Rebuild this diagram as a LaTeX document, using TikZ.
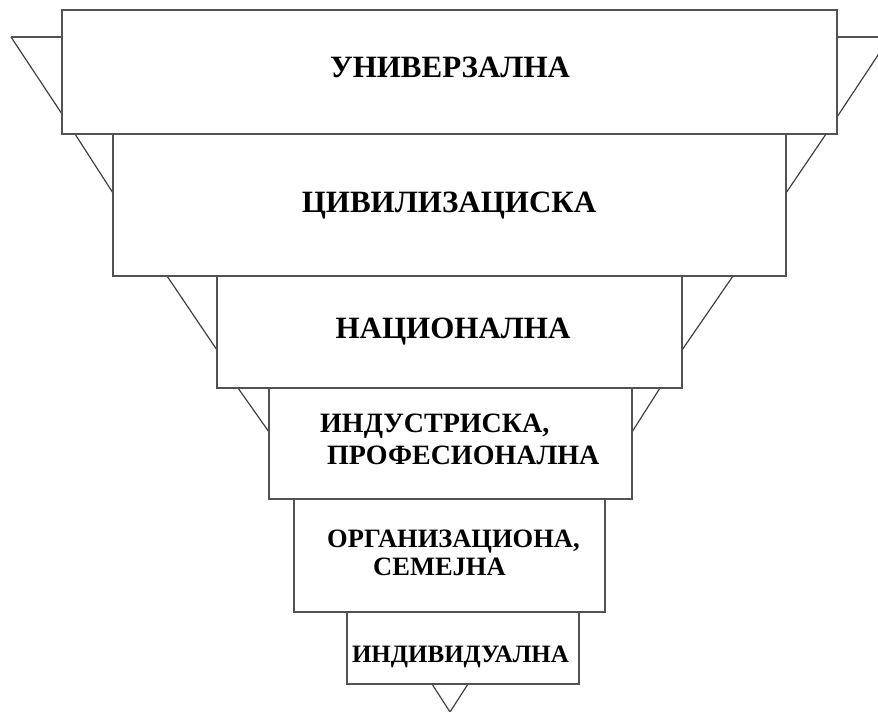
\documentclass[tikz,border=0pt]{standalone}
\usepackage{fontspec}
\setmainfont{Liberation Serif}
\begin{document}
\begin{tikzpicture}[x=1pt,y=-1pt,
  level/.style={draw=black!68, line width=2.6pt, fill=white, inner sep=0pt},
  wedge/.style={draw=black!75, line width=1.2pt, line join=round},
  edge/.style={draw=black!68, line width=2pt},
  caption/.style={font=\bfseries, text=black, inner sep=0pt, align=left}]
\useasboundingbox (0,0) rectangle (878,712);
\clip (0,0) rectangle (878,712);

% side wedges of the inverted pyramid behind the levels
\draw[edge] (11,37) -- (62,37);
\draw[edge] (837,37) -- (890,37);
\draw[wedge] (11,37) -- (62,114);
\draw[wedge] (890,37) -- (837,117);
\draw[wedge] (75,134) -- (113,193);
\draw[wedge] (826,134) -- (786,193);
\draw[wedge] (167,276) -- (217,350);
\draw[wedge] (733,276) -- (682,350);
\draw[wedge] (238,388) -- (269,432);
\draw[wedge] (660,388) -- (632,432);
% tip under the last level
\draw[wedge] (432,684) -- (450,712) -- (468,684);

% the six levels
\node[level, minimum width=775pt, minimum height=124pt] (b1) at (449.5,72) {};
\node[level, minimum width=673pt, minimum height=142pt] (b2) at (449.5,205) {};
\node[level, minimum width=465pt, minimum height=112pt] (b3) at (449.5,332) {};
\node[level, minimum width=363pt, minimum height=111pt] (b4) at (450.5,443.5) {};
\node[level, minimum width=311pt, minimum height=113pt] (b5) at (449.5,555.5) {};
\node[level, minimum width=232pt, minimum height=72pt] (b6) at (463,648) {};

% captions (a two-line caption sits on the baseline of its last line)
\node[caption, anchor=base, font=\fontsize{31}{34}\selectfont\bfseries] (t1) at (450,77) {УНИВЕРЗАЛНА};
\node[caption, anchor=base, font=\fontsize{31}{34}\selectfont\bfseries] (t2) at (449,212) {ЦИВИЛИЗАЦИСКА};
\node[caption, anchor=base, font=\fontsize{31}{34}\selectfont\bfseries] (t3) at (453,338) {НАЦИОНАЛНА};
\node[caption, anchor=base west, font=\fontsize{28}{32}\selectfont\bfseries] (t4) at (320,464)
  {ИНДУСТРИСКА,\\\hspace*{7pt}ПРОФЕСИОНАЛНА};
\node[caption, anchor=base west, font=\fontsize{26.5}{28}\selectfont\bfseries] (t5) at (327,575)
  {ОРГАНИЗАЦИОНА,\\\hspace*{46pt}СЕМЕЈНА};
\node[caption, anchor=base, font=\fontsize{25}{27}\selectfont\bfseries] (t6) at (460.5,662) {ИНДИВИДУАЛНА};
\end{tikzpicture}
\end{document}
